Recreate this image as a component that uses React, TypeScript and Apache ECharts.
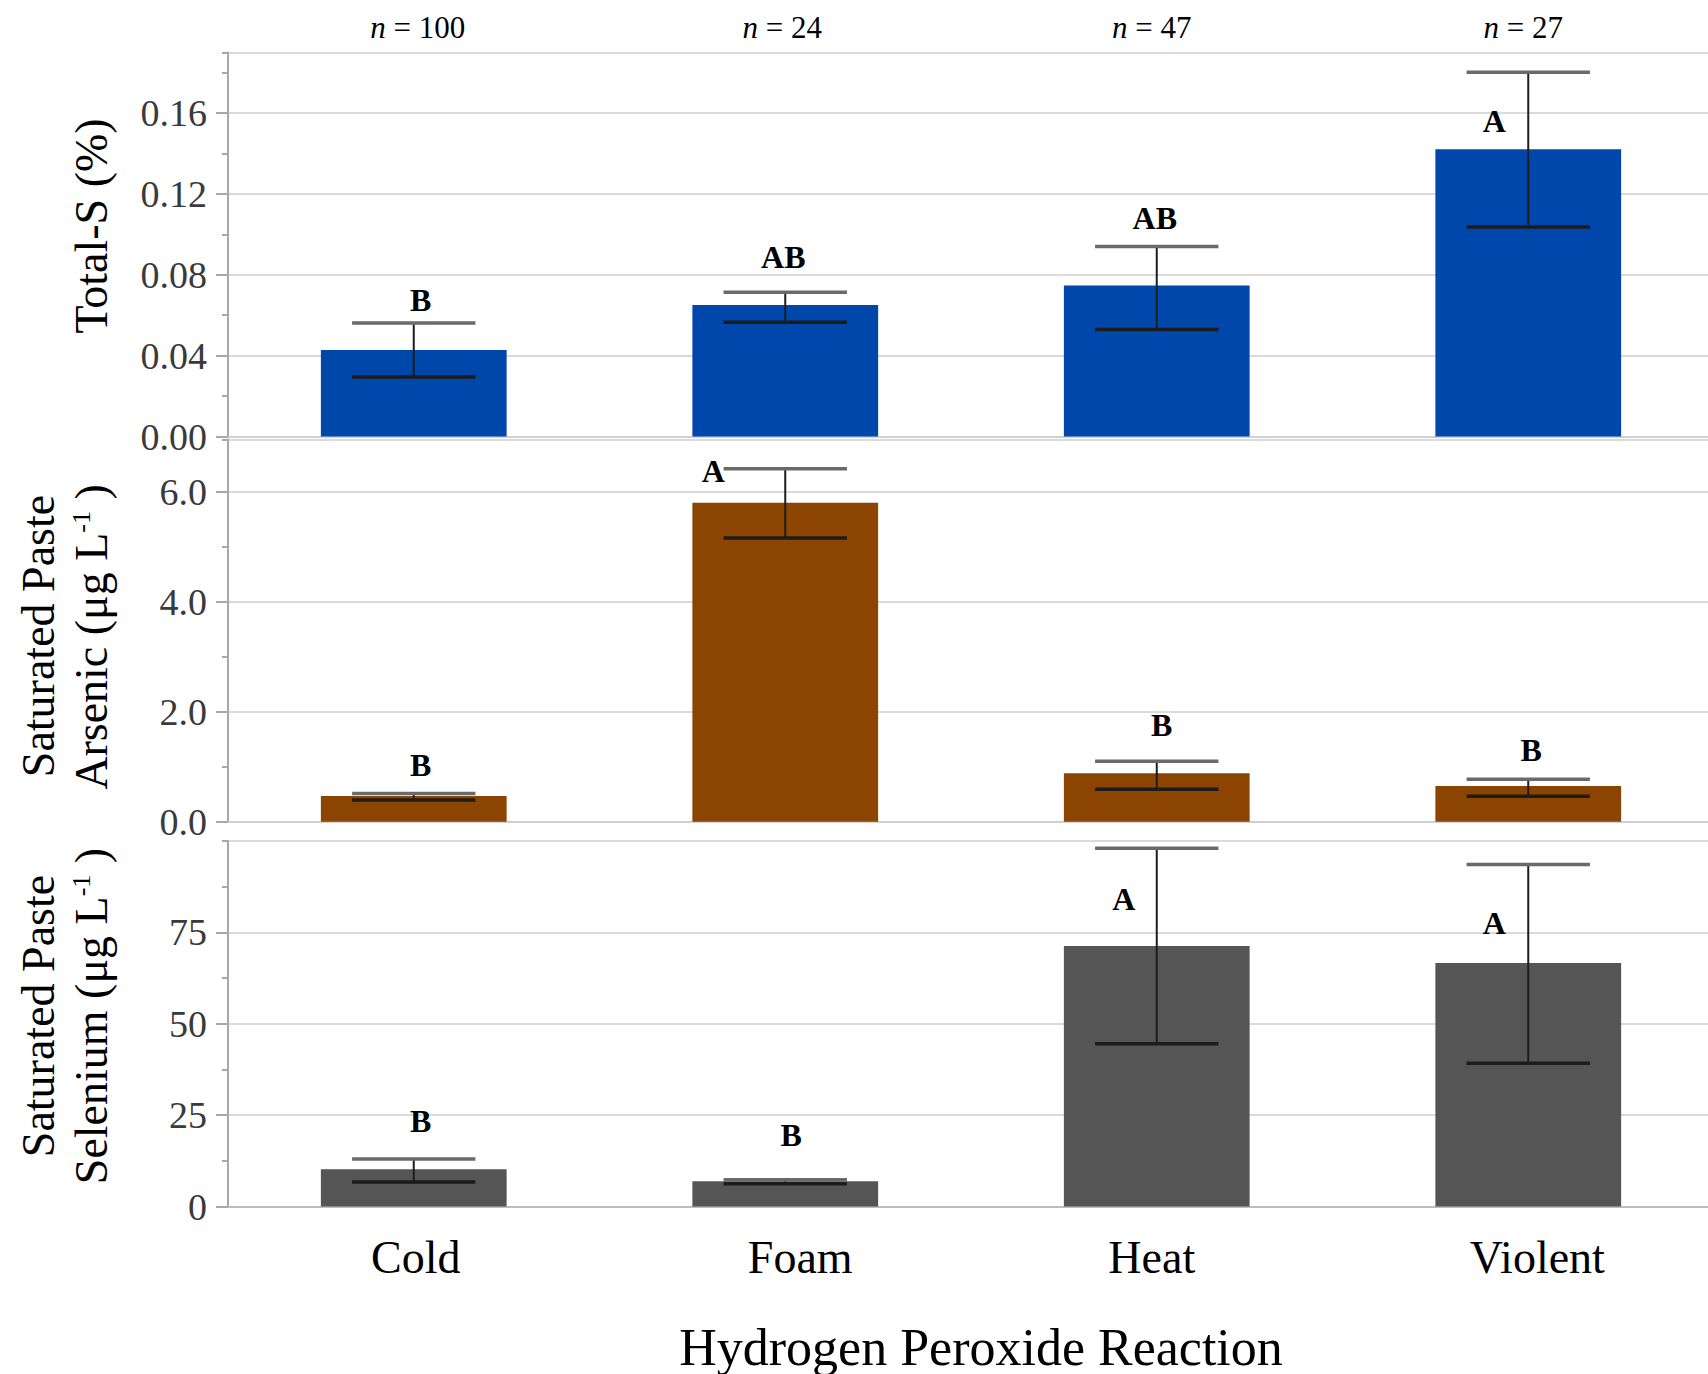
import React, { useEffect, useRef } from 'react';
import * as echarts from 'echarts';

// ---------------- data ----------------
const categories = ['Cold', 'Foam', 'Heat', 'Violent'];
const nCounts = ['100', '24', '47', '27'];

const sulfurMean = [0.0428, 0.0651, 0.0747, 0.1421];
const sulfurUpper = [0.0561, 0.0714, 0.094, 0.1802];
const sulfurLower = [0.0294, 0.0565, 0.0529, 0.1036];
const sulfurLetters = ['B', 'AB', 'AB', 'A'];
const sulfurLetterY = [0.0674, 0.0889, 0.1083, 0.1559];

const arsenicMean = [0.467, 5.8, 0.879, 0.648];
const arsenicUpper = [0.515, 6.42, 1.097, 0.77];
const arsenicLower = [0.394, 5.16, 0.588, 0.461];
const arsenicLetters = ['B', 'A', 'B', 'B'];
const arsenicLetterY = [1.03, 6.38, 1.76, 1.3];

const seleniumMean = [10.2, 6.9, 71.3, 66.6];
const seleniumUpper = [13.0, 7.3, 98.0, 93.6];
const seleniumLower = [6.7, 6.2, 44.5, 39.2];
const seleniumLetters = ['B', 'B', 'A', 'A'];
const seleniumLetterY = [23.4, 19.6, 84.0, 77.6];

// axis ranges: [min, max, interval, minor interval]
const sulfurAxis = [0, 0.19, 0.04, 0.02];
const arsenicAxis = [0, 6.95, 2, 1];
const seleniumAxis = [0, 100, 25, 12.5];

// ---------------- layout / style ----------------
const FONT = '"Liberation Serif", "Times New Roman", serif';
const letterDx = [
  [7, -2, -2, -34],
  [7, -72, 5, 3],
  [7, 6, -33, -34],
];
const catLabelShift = [2, 15, -5, 9];
const nLabelShift = [4, -3, -5, -5];
const gridBoxes = [
  { top: 52.5, height: 384 },
  { top: 439.5, height: 382.2 },
  { top: 841, height: 365.5 },
];
const barColors = ['#0047ab', '#8b4500', '#555555'];
const decimals = [2, 1, 0];

const shiftPad = (s: number) => (s >= 0 ? [0, 0, 0, 2 * s] : [0, -2 * s, 0, 0]);
const leftPad = (s: number) => [0, 0, 0, s > 0 ? 2 * s : 0];
const rightPad = (s: number) => [0, s < 0 ? -2 * s : 0, 0, 0];

export default function App() {
  const ref = useRef<HTMLDivElement>(null);

  useEffect(() => {
    if (!ref.current) return;
    const chart = echarts.init(ref.current, undefined, { renderer: 'svg' });

    const panels = [
      { mean: sulfurMean, upper: sulfurUpper, lower: sulfurLower, letters: sulfurLetters, letterY: sulfurLetterY, axis: sulfurAxis },
      { mean: arsenicMean, upper: arsenicUpper, lower: arsenicLower, letters: arsenicLetters, letterY: arsenicLetterY, axis: arsenicAxis },
      { mean: seleniumMean, upper: seleniumUpper, lower: seleniumLower, letters: seleniumLetters, letterY: seleniumLetterY, axis: seleniumAxis },
    ];

    const grid = gridBoxes.map((g) => ({ left: 228, width: 1486, top: g.top, height: g.height }));

    const catRich: any = {};
    categories.forEach((_, j) => {
      catRich['c' + j] = { fontSize: 46, fontFamily: FONT, color: '#000', padding: shiftPad(catLabelShift[j]) };
    });
    const nRich: any = {};
    nCounts.forEach((_, j) => {
      nRich['i' + j] = { fontStyle: 'italic', fontSize: 31, fontFamily: FONT, color: '#000', padding: leftPad(nLabelShift[j]) };
      nRich['r' + j] = { fontSize: 31, fontFamily: FONT, color: '#000', padding: rightPad(nLabelShift[j]) };
    });

    const xAxis: any[] = panels.map((_, i) => ({
      type: 'category',
      gridIndex: i,
      data: categories,
      axisLine: { show: true, lineStyle: { color: i === 2 ? '#bdbdbd' : '#d0d0d0', width: 2 } },
      axisTick: { show: false },
      axisLabel: {
        show: i === 2,
        margin: 28,
        fontSize: 46,
        fontFamily: FONT,
        color: '#000',
        formatter: (v: string) => `{c${categories.indexOf(v)}|${v}}`,
        rich: catRich,
      },
      splitLine: { show: false },
    }));
    xAxis.push({
      type: 'category',
      gridIndex: 0,
      position: 'top',
      data: nCounts,
      axisLine: { show: false },
      axisTick: { show: false },
      splitLine: { show: false },
      axisLabel: {
        margin: 10,
        color: '#000',
        formatter: (v: string) => {
          const j = nCounts.indexOf(v);
          return `{i${j}|n}{r${j}| = ${v}}`;
        },
        rich: nRich,
      },
    });

    const yAxis: any[] = [];
    panels.forEach((p, i) => {
      const [min, max, interval, minor] = p.axis;
      yAxis.push({
        type: 'value',
        gridIndex: i,
        min,
        max,
        interval,
        position: 'left',
        axisLine: { show: true, lineStyle: { color: '#a8a8a8', width: 2 } },
        axisTick: { show: true, length: 12, lineStyle: { color: '#a8a8a8', width: 2 } },
        axisLabel: {
          show: true,
          margin: 21,
          fontSize: 38,
          fontFamily: FONT,
          color: '#3a3a3a',
          showMaxLabel: false,
          formatter: (v: number) => v.toFixed(decimals[i]),
        },
        splitLine: { show: true, lineStyle: { color: '#dadada', width: 2 } },
      });
      yAxis.push({
        type: 'value',
        gridIndex: i,
        min,
        max,
        interval: minor,
        position: 'left',
        axisLine: { show: false },
        axisTick: { show: true, length: 6, lineStyle: { color: '#a8a8a8', width: 2 } },
        axisLabel: { show: false },
        splitLine: { show: false },
      });
    });

    const series: any[] = [];
    panels.forEach((p, i) => {
      series.push({
        type: 'bar',
        xAxisIndex: i,
        yAxisIndex: 2 * i,
        data: p.mean,
        barWidth: '50%',
        itemStyle: { color: barColors[i] },
        silent: true,
        z: 2,
      });
      series.push({
        type: 'custom',
        xAxisIndex: i,
        yAxisIndex: 2 * i,
        data: categories.map((_, j) => [j, p.upper[j], p.lower[j]]),
        encode: { x: 0, y: [1, 2] },
        silent: true,
        z: 3,
        renderItem: (params: any, api: any) => {
          const hi = api.coord([api.value(0), api.value(1)]);
          const lo = api.coord([api.value(0), api.value(2)]);
          const half = api.size([1, 0])[0] * 0.166;
          return {
            type: 'group',
            children: [
              { type: 'line', shape: { x1: hi[0], y1: hi[1], x2: lo[0], y2: lo[1] }, style: { stroke: '#1c1c1c', lineWidth: 2 } },
              { type: 'line', shape: { x1: hi[0] - half, y1: hi[1], x2: hi[0] + half, y2: hi[1] }, style: { stroke: '#6a6a6a', lineWidth: 3.5 } },
              { type: 'line', shape: { x1: lo[0] - half, y1: lo[1], x2: lo[0] + half, y2: lo[1] }, style: { stroke: '#1c1c1c', lineWidth: 3.5 } },
            ],
          };
        },
      });
      series.push({
        type: 'custom',
        xAxisIndex: i,
        yAxisIndex: 2 * i,
        data: categories.map((_, j) => [j, p.letterY[j]]),
        encode: { x: 0, y: 1 },
        silent: true,
        z: 4,
        renderItem: (params: any, api: any) => {
          const pt = api.coord([api.value(0), api.value(1)]);
          return {
            type: 'text',
            x: pt[0] + letterDx[i][params.dataIndex],
            y: pt[1],
            style: {
              text: p.letters[params.dataIndex],
              fontSize: 32,
              fontWeight: 'bold',
              fontFamily: FONT,
              fill: '#000',
              align: 'center',
              verticalAlign: 'middle',
            },
          };
        },
      });
    });

    const titleStyle = (text: string, extra: any = {}) => ({
      text,
      fontSize: 46,
      fontFamily: FONT,
      fill: '#000',
      align: 'center',
      verticalAlign: 'middle',
      ...extra,
    });
    const supRich = { sup: { fontSize: 26, fontFamily: FONT, verticalAlign: 'top', fill: '#000' } };

    const graphic = [
      { type: 'text', x: 91, y: 226, rotation: Math.PI / 2, style: titleStyle('Total-S (%)') },
      { type: 'text', x: 38, y: 636, rotation: Math.PI / 2, style: titleStyle('Saturated Paste') },
      { type: 'text', x: 91, y: 637, rotation: Math.PI / 2, style: titleStyle('Arsenic (μg L{sup|-1} )', { rich: supRich }) },
      { type: 'text', x: 38, y: 1016, rotation: Math.PI / 2, style: titleStyle('Saturated Paste') },
      { type: 'text', x: 91, y: 1016, rotation: Math.PI / 2, style: titleStyle('Selenium (μg L{sup|-1} )', { rich: supRich }) },
      { type: 'text', x: 981, y: 1347, style: titleStyle('Hydrogen Peroxide Reaction', { fontSize: 52 }) },
    ];

    chart.setOption({
      animation: false,
      backgroundColor: '#ffffff',
      grid,
      xAxis,
      yAxis,
      series,
      graphic,
    });

    return () => chart.dispose();
  }, []);

  return (
    <div style={{ position: 'absolute', left: 0, top: 0, width: 1708, height: 1374, overflow: 'hidden', background: '#fff' }}>
      <div ref={ref} style={{ width: 1730, height: 1374 }} />
    </div>
  );
}
